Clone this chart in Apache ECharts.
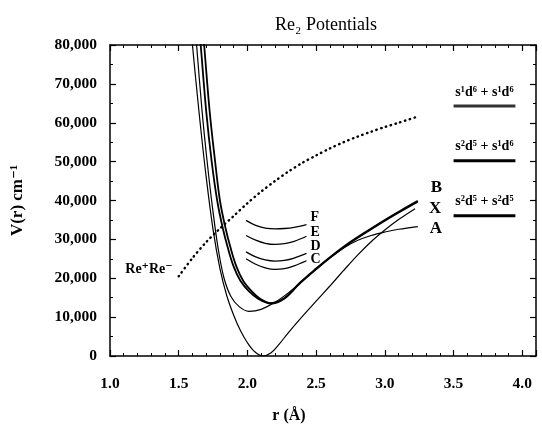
<!DOCTYPE html>
<html><head><meta charset="utf-8">
<script src="https://cdn.jsdelivr.net/npm/echarts@6/dist/echarts.min.js"></script>
<style>html,body{margin:0;padding:0;background:#fff}#c{width:542px;height:429px}</style>
</head><body><div id="c"></div>
<script>
// ---- data ----
const rX = [1.58, 1.60, 1.65, 1.70, 1.75, 1.80, 1.85, 1.90, 1.95, 2.00, 2.05, 2.11, 2.17, 2.23, 2.30, 2.40, 2.50, 2.60, 2.70, 2.80, 2.90, 3.00, 3.10, 3.22];
const vX = [88000, 80000, 62000, 46000, 32500, 22500, 15500, 10500, 6500, 3400, 1200, 0, 800, 3000, 6100, 10200, 14100, 18000, 22000, 25900, 29400, 32400, 35100, 37900];

const rA = [1.61, 1.63, 1.67, 1.71, 1.75, 1.79, 1.83, 1.88, 1.94, 2.01, 2.10, 2.20, 2.30, 2.40, 2.50, 2.60, 2.70, 2.80, 2.90, 3.00, 3.10, 3.24];
const vA = [88000, 80000, 63000, 49000, 37000, 27000, 20000, 15300, 12700, 11500, 12000, 13800, 16300, 19300, 22400, 25300, 27800, 29700, 31000, 31900, 32600, 33300];

const rB1 = [1.64, 1.66, 1.70, 1.74, 1.78, 1.82, 1.86, 1.90, 1.95, 2.01, 2.08, 2.17, 2.27, 2.38, 2.50, 2.61, 2.73, 2.86, 3.00, 3.12, 3.24];
const vB1 = [88000, 80000, 63000, 50000, 40000, 33000, 27500, 23000, 19300, 16700, 14700, 13500, 14800, 18600, 22300, 25500, 28700, 31700, 34800, 37300, 39700];
const rB2 = [1.665, 1.685, 1.725, 1.765, 1.80, 1.84, 1.88, 1.92, 1.97, 2.03, 2.09, 2.17, 2.27, 2.38, 2.50, 2.61, 2.73, 2.86, 3.00, 3.12, 3.24];
const vB2 = [88000, 80000, 63000, 50000, 40000, 33000, 27500, 23000, 19300, 16700, 14800, 13600, 14900, 18800, 22500, 25700, 28900, 31900, 35000, 37500, 39900];

const rShort = [1.99, 2.06, 2.13, 2.20, 2.27, 2.34, 2.43];
const vF = [34900, 33600, 32900, 32700, 32800, 33100, 33800];
const vE = [31000, 29800, 29000, 28700, 28900, 29500, 30800];
const vD = [26800, 25500, 24700, 24400, 24600, 25200, 26400];
const vC = [25000, 23600, 22700, 22300, 22500, 23200, 24500];

const rIon = [1.50, 1.60, 1.70, 1.80, 1.90, 2.00, 2.10, 2.20, 2.30, 2.40, 2.50, 2.60, 2.70, 2.80, 2.90, 3.00, 3.10, 3.24];
const vIon = [20500, 25200, 29300, 32800, 36000, 39300, 42300, 45000, 47500, 49700, 51600, 53400, 55000, 56400, 57700, 58900, 60000, 61600];

const asymLabels = ['s¹d⁶ + s¹d⁶', 's²d⁵ + s¹d⁶', 's²d⁵ + s²d⁵'];
const asymV = [64300, 50200, 36100];
const asymR = [3.50, 3.95];

const xMin = 1.0, xMax = 4.1, xStep = 0.5;
const yMin = 0, yMax = 80000, yStep = 10000;

// ---- chart ----
const SERIF = '"Liberation Serif", "DejaVu Serif", serif';
const zip = (r, v) => r.map((x, i) => [x, v[i]]);
const chart = echarts.init(document.getElementById('c'), null, {renderer: 'canvas'});

function curve(name, r, v, width, endText, offset, fs) {
  const s = {
    name, type: 'line', data: zip(r, v), showSymbol: false, smooth: 0.35,
    lineStyle: {color: '#000', width}, clip: true, silent: true, z: 3
  };
  if (endText) {
    s.endLabel = {show: true, formatter: endText, distance: 3, offset,
      color: '#000', fontFamily: SERIF, fontWeight: 'bold', fontSize: fs};
  }
  return s;
}

const series = [
  curve('X', rX, vX, 1.2, 'X', [11, 0], 17),
  curve('A', rA, vA, 1.2, 'A', [9, 2], 17),
  curve('B1', rB1, vB1, 1.8, null),
  curve('B', rB2, vB2, 1.8, 'B', [10, -13], 17),
  curve('F', rShort, vF, 1.3, 'F', [1, -7], 14),
  curve('E', rShort, vE, 1.3, 'E', [1, -4], 14),
  curve('D', rShort, vD, 1.3, 'D', [1, -7], 14),
  curve('C', rShort, vC, 1.3, 'C', [1, -1], 14),
  {
    name: 'ion', type: 'line', smooth: 0.3, showSymbol: true, symbol: 'circle', symbolSize: 0, silent: true,
    data: zip(rIon, vIon).map((p, i) => i === 0 ? {value: p, label: {show: true, position: 'left', distance: 6, offset: [0, -7],
      formatter: 'Re⁺Re⁻', color: '#000', fontFamily: SERIF, fontWeight: 'bold', fontSize: 14}} : p),
    lineStyle: {color: '#000', width: 2.4, type: [0.5, 4.5], cap: 'round'}
  }
];
asymV.forEach((v, k) => {
  const mid = (asymR[0] + asymR[1]) / 2;
  series.push({
    name: asymLabels[k], type: 'line', showSymbol: true, symbol: 'circle', symbolSize: 0, silent: true,
    data: [[asymR[0], v], {value: [mid, v], label: {show: true, position: 'top', distance: 7,
      formatter: asymLabels[k], color: '#000', fontFamily: SERIF, fontWeight: 'bold', fontSize: 14}}, [asymR[1], v]],
    lineStyle: {color: k === 0 ? '#333' : '#000', width: 3}
  });
});

const axisLine = {show: true, onZero: false, lineStyle: {color: '#000', width: 1.5}};
const tick = {show: true, inside: true, length: 6, lineStyle: {color: '#000', width: 1.2}};
const minor = {show: true, length: 3, lineStyle: {color: '#000', width: 1}};
const labelStyle = {color: '#000', fontFamily: SERIF, fontWeight: 'bold', fontSize: 15.5};

chart.setOption({
  animation: false,
  backgroundColor: '#fff',
  title: {text: 'Re₂ Potentials', left: 321, textAlign: 'center', top: 11,
    textStyle: {fontFamily: SERIF, fontWeight: 'normal', fontSize: 18, color: '#000'}},
  grid: {left: 110, right: 6, top: 45, bottom: 65, containLabel: false},
  xAxis: [
    {type: 'value', position: 'bottom', min: xMin, max: xMax, interval: xStep,
      axisLine, axisTick: tick, minorTick: Object.assign({splitNumber: 5}, minor),
      splitLine: {show: false}, minorSplitLine: {show: false},
      axisLabel: Object.assign({margin: 20, showMaxLabel: false, formatter: v => v.toFixed(1)}, labelStyle),
      name: 'r (Å)', nameLocation: 'middle', nameGap: 52,
      nameTextStyle: Object.assign({}, labelStyle, {fontSize: 16, padding: [0, 68, 0, 0]})},
    {type: 'value', position: 'top', min: xMin, max: xMax, interval: xStep,
      axisLine, axisTick: tick, minorTick: Object.assign({splitNumber: 5}, minor),
      splitLine: {show: false}, axisLabel: {show: false}}
  ],
  yAxis: [
    {type: 'value', position: 'left', min: yMin, max: yMax, interval: yStep,
      axisLine, axisTick: tick, minorTick: Object.assign({splitNumber: 2}, minor),
      splitLine: {show: false},
      axisLabel: Object.assign({margin: 13, formatter: v => v.toLocaleString('en-US')}, labelStyle),
      name: 'V(r) cm⁻¹', nameLocation: 'middle', nameGap: 84, nameRotate: 90,
      nameTextStyle: Object.assign({}, labelStyle, {fontSize: 17})},
    {type: 'value', position: 'right', min: yMin, max: yMax, interval: yStep,
      axisLine, axisTick: tick, minorTick: Object.assign({splitNumber: 2}, minor),
      splitLine: {show: false}, axisLabel: {show: false}}
  ],
  series
});
</script></body></html>
